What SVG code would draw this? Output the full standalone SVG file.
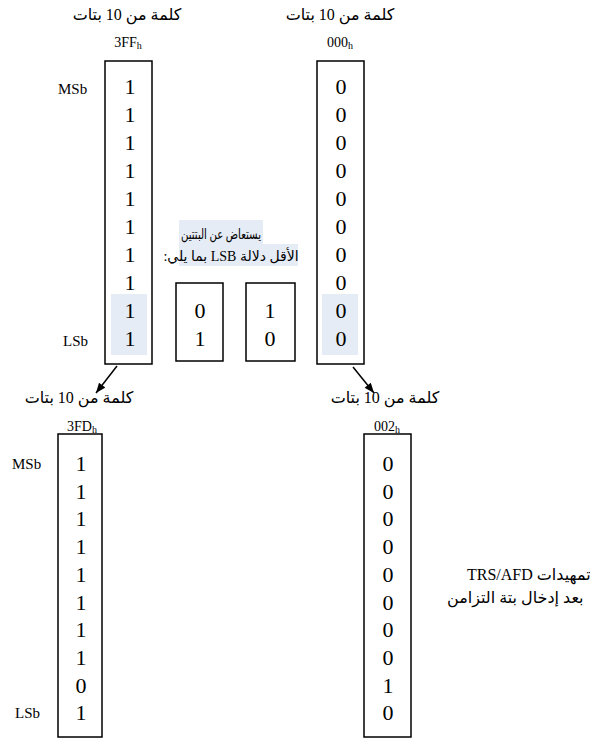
<svg xmlns="http://www.w3.org/2000/svg" width="590" height="742" viewBox="0 0 590 742">
<style>
.box{fill:none;stroke:#000;stroke-width:1.5}
.hl{fill:#e6ecf6;stroke:none}
.d{font-family:"Liberation Serif","Times New Roman",serif;font-size:22px;fill:#000;text-anchor:middle}
.lab{font-family:"Liberation Serif","Times New Roman",serif;font-size:15px;fill:#000}
.hex{font-family:"Liberation Serif","Times New Roman",serif;font-size:14px;fill:#000;text-anchor:middle}
.sub{font-size:10px}
.ar{font-family:"Liberation Serif","DejaVu Sans",serif;font-size:16px;fill:#000}
.ar14{font-size:14px}
.arc{text-anchor:middle}
.conn{stroke:#000;stroke-width:1.5;fill:none}
</style>
<defs>
<marker id="ah" viewBox="0 0 10 8" refX="10" refY="4" markerWidth="11" markerHeight="8" markerUnits="userSpaceOnUse" orient="auto">
<path d="M0,0 L10,4 L0,8 z" fill="#000"/>
</marker>
</defs>
<rect width="590" height="742" fill="#fff"/>

<g id="word-3FF">
<text class="ar arc" x="127" y="20" direction="rtl">كلمة من 10 بتات</text>
<text class="hex" x="128" y="47">3FF<tspan class="sub" dy="2">h</tspan></text>
<text class="lab" x="58" y="94">MSb</text>
<text class="lab" x="63" y="346">LSb</text>
<rect class="hl" x="111" y="294" width="36" height="61"/>
<rect class="box" x="105" y="61" width="47" height="303"/>
<text class="d" x="130" y="94">1</text>
<text class="d" x="130" y="122">1</text>
<text class="d" x="130" y="150">1</text>
<text class="d" x="130" y="178">1</text>
<text class="d" x="130" y="206">1</text>
<text class="d" x="130" y="234">1</text>
<text class="d" x="130" y="262">1</text>
<text class="d" x="130" y="290">1</text>
<text class="d" x="130" y="318">1</text>
<text class="d" x="130" y="346">1</text>
</g>

<g id="word-000">
<text class="ar arc" x="340" y="20" direction="rtl">كلمة من 10 بتات</text>
<text class="hex" x="340" y="47">000<tspan class="sub" dy="2">h</tspan></text>
<rect class="hl" x="322" y="294" width="36" height="61"/>
<rect class="box" x="317" y="61" width="47" height="303"/>
<text class="d" x="341" y="94">0</text>
<text class="d" x="341" y="122">0</text>
<text class="d" x="341" y="150">0</text>
<text class="d" x="341" y="178">0</text>
<text class="d" x="341" y="206">0</text>
<text class="d" x="341" y="234">0</text>
<text class="d" x="341" y="262">0</text>
<text class="d" x="341" y="290">0</text>
<text class="d" x="341" y="318">0</text>
<text class="d" x="341" y="346">0</text>
</g>

<g id="note-lsb">
<rect class="hl" x="179" y="220" width="84" height="25"/>
<rect class="hl" x="179" y="244" width="119" height="22"/>
<text class="ar ar14 arc" x="221" y="239" direction="rtl" textLength="80" lengthAdjust="spacingAndGlyphs">يستعاض عن البتتين</text>
<text class="ar ar14 arc" x="231" y="261" direction="rtl">الأقل دلالة LSB بما يلي:</text>
</g>

<g id="lsb-01">
<rect class="box" x="176" y="283" width="47" height="78"/>
<text class="d" x="200" y="318">0</text>
<text class="d" x="200" y="346">1</text>
</g>

<g id="lsb-10">
<rect class="box" x="246" y="283" width="49" height="78"/>
<text class="d" x="270" y="318">1</text>
<text class="d" x="270" y="346">0</text>
</g>

<g id="word-3FD">
<text class="ar arc" x="79" y="403" direction="rtl">كلمة من 10 بتات</text>
<text class="hex" x="82" y="431">3FD<tspan class="sub" dy="2">h</tspan></text>
<text class="lab" x="12" y="469">MSb</text>
<text class="lab" x="15" y="718">LSb</text>
<rect class="box" x="58" y="434" width="44" height="303"/>
<text class="d" x="81" y="471">1</text>
<text class="d" x="81" y="498.7">1</text>
<text class="d" x="81" y="526.4">1</text>
<text class="d" x="81" y="554.1">1</text>
<text class="d" x="81" y="581.8">1</text>
<text class="d" x="81" y="609.5">1</text>
<text class="d" x="81" y="637.2">1</text>
<text class="d" x="81" y="664.9">1</text>
<text class="d" x="81" y="692.6">0</text>
<text class="d" x="81" y="720.3">1</text>
</g>

<g id="word-002">
<text class="ar arc" x="385" y="403" direction="rtl">كلمة من 10 بتات</text>
<text class="hex" x="387" y="431">002<tspan class="sub" dy="2">h</tspan></text>
<rect class="box" x="364" y="434" width="47" height="303"/>
<text class="d" x="388" y="471">0</text>
<text class="d" x="388" y="498.7">0</text>
<text class="d" x="388" y="526.4">0</text>
<text class="d" x="388" y="554.1">0</text>
<text class="d" x="388" y="581.8">0</text>
<text class="d" x="388" y="609.5">0</text>
<text class="d" x="388" y="637.2">0</text>
<text class="d" x="388" y="664.9">0</text>
<text class="d" x="388" y="692.6">1</text>
<text class="d" x="388" y="720.3">0</text>
</g>

<g id="note-trs">
<text class="ar" x="467" y="580" direction="rtl" text-anchor="end">تمهيدات TRS/AFD</text>
<text class="ar" x="447" y="603" direction="rtl" text-anchor="end">بعد إدخال بتة التزامن</text>
</g>

<g id="connectors">
<line class="conn" x1="117" y1="366" x2="96" y2="393" marker-end="url(#ah)"/>
<line class="conn" x1="353" y1="367" x2="374" y2="393" marker-end="url(#ah)"/>
</g>
</svg>
